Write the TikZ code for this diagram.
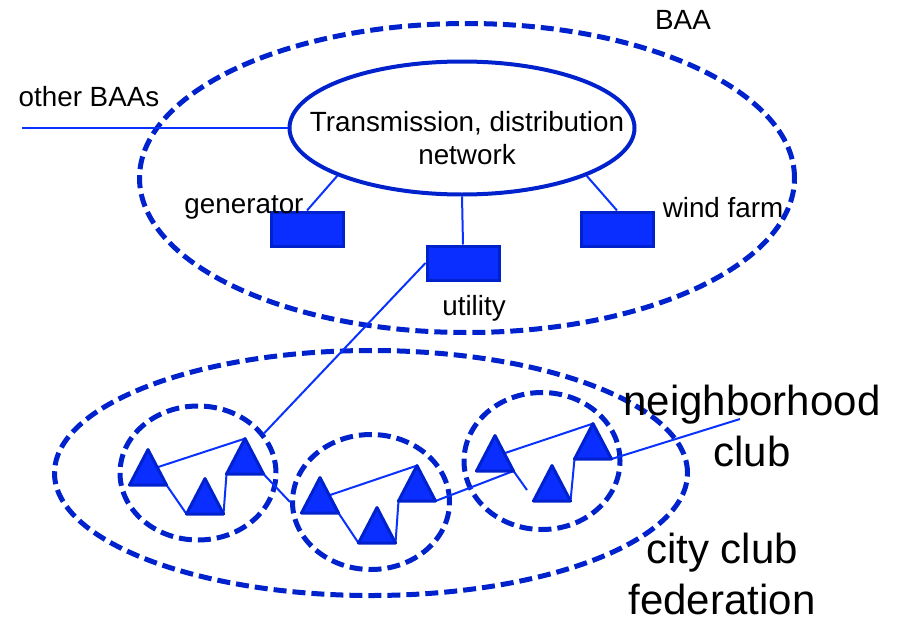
\documentclass[tikz,border=0pt]{standalone}
\usepackage{fontspec}
\setmainfont{Liberation Sans}
\usetikzlibrary{shapes.geometric}

\definecolor{zoneblue}{RGB}{0,34,204}
\definecolor{linkblue}{RGB}{10,50,255}
\definecolor{boxblue}{RGB}{10,46,255}

\tikzset{
  zone/.style={ellipse, draw=zoneblue, line width=5pt, dash pattern=on 13pt off 6pt, inner sep=0pt},
  link/.style={draw=linkblue, line width=2pt},
  unit/.style={draw=zoneblue, fill=boxblue, line width=3pt, minimum width=72pt, minimum height=34pt, inner sep=0pt},
  member/.style={isosceles triangle, isosceles triangle stretches, shape border rotate=90, draw=zoneblue, fill=boxblue, line width=3pt, line join=round, minimum width=32pt, minimum height=30pt, inner sep=0pt, anchor=lower side},
  small/.style={font=\fontsize{27.8}{33}\selectfont, align=center, inner sep=0pt},
  big/.style={font=\fontsize{42}{51}\selectfont, align=center, inner sep=0pt},
}

\begin{document}
\begin{tikzpicture}[x=1pt, y=-1pt]

    \useasboundingbox (0,0) rectangle (899,621);

    % BAA and city club federation
    \node[zone, minimum width=655pt, minimum height=309pt] (baa) at (467,178) {};
    \node[zone, minimum width=633pt, minimum height=245pt] (city) at (371,473) {};

    % Neighborhood clubs
    \node[zone, minimum width=156pt, minimum height=134pt] (nbhd1) at (198,473) {};
    \node[zone, minimum width=157pt, minimum height=135pt] (nbhd2) at (371,502) {};
    \node[zone, minimum width=156pt, minimum height=137pt] (nbhd3) at (542,461) {};

    % Transmission network and units
    \node[ellipse, draw=zoneblue, line width=4pt, fill=white, minimum width=345pt, minimum height=133pt, inner sep=0pt] (net) at (462,128) {};
    \node[small] (nettext) at (467,138) {Transmission, distribution\\network};
    \node[unit] (gen) at (307,229) {};
    \node[unit] (util) at (463,263) {};
    \node[unit] (wind) at (617,229) {};

    % Members of the clubs
    \node[member] (a) at (148,485) {};
    \node[member] (b) at (205,514) {};
    \node[member] (c) at (245,474) {};
    \node[member] (d) at (320,513) {};
    \node[member] (e) at (377,543) {};
    \node[member] (f) at (417,501) {};
    \node[member] (g) at (495,471) {};
    \node[member] (h) at (552,501) {};
    \node[member] (i) at (593,459) {};

    \coordinate (otherend) at (22,128);
    \coordinate (stub) at (527,490);
    \coordinate (clubend) at (740,419);

    % Links
    \draw[link] (otherend) -- (net.west);
    \draw[link] (net.201) -- (gen.north);
    \draw[link] (net.south) -- (util.north);
    \draw[link] (net.339) -- (wind.north);
    \draw[link] (util.west) -- (nbhd1.31);

    \draw[link] (a.right side) -- (c.apex);
    \draw[link] (a.right corner) -- (b.left corner);
    \draw[link] (b.right corner) -- (c.left corner);
    \draw[link] (c.right corner) -- (nbhd2.west);

    \draw[link] (d.right side) -- (f.apex);
    \draw[link] (d.right corner) -- (e.left corner);
    \draw[link] (e.right corner) -- (f.left corner);
    \draw[link] (f.right corner) -- (g.right corner);

    \draw[link] (g.right side) -- (i.apex);
    \draw[link] (g.right corner) -- (stub);
    \draw[link] (h.right corner) -- (i.left corner);
    \draw[link] (i.right corner) -- (clubend);

    % redraw members on top of the links
    \foreach \m in {a,b,c,d,e,f,g,h,i}
      \draw[draw=zoneblue, fill=boxblue, line width=3pt, line join=round] (\m.apex) -- (\m.left corner) -- (\m.right corner) -- cycle;

    % Labels
    \node[small] (baalabel) at (683,20) {BAA};
    \node[small] (otherlabel) at (89,97) {other BAAs};
    \node[small] (genlabel) at (244,207) {generator};
    \node[small] (windlabel) at (723,208) {wind farm};
    \node[small] (utillabel) at (474,308) {utility};
    \node[big] (nbhdlabel) at (752,426) {neighborhood\\club};
    \node[big] (citylabel) at (722,574) {city club\\federation};
  \end{tikzpicture}
\end{document}
